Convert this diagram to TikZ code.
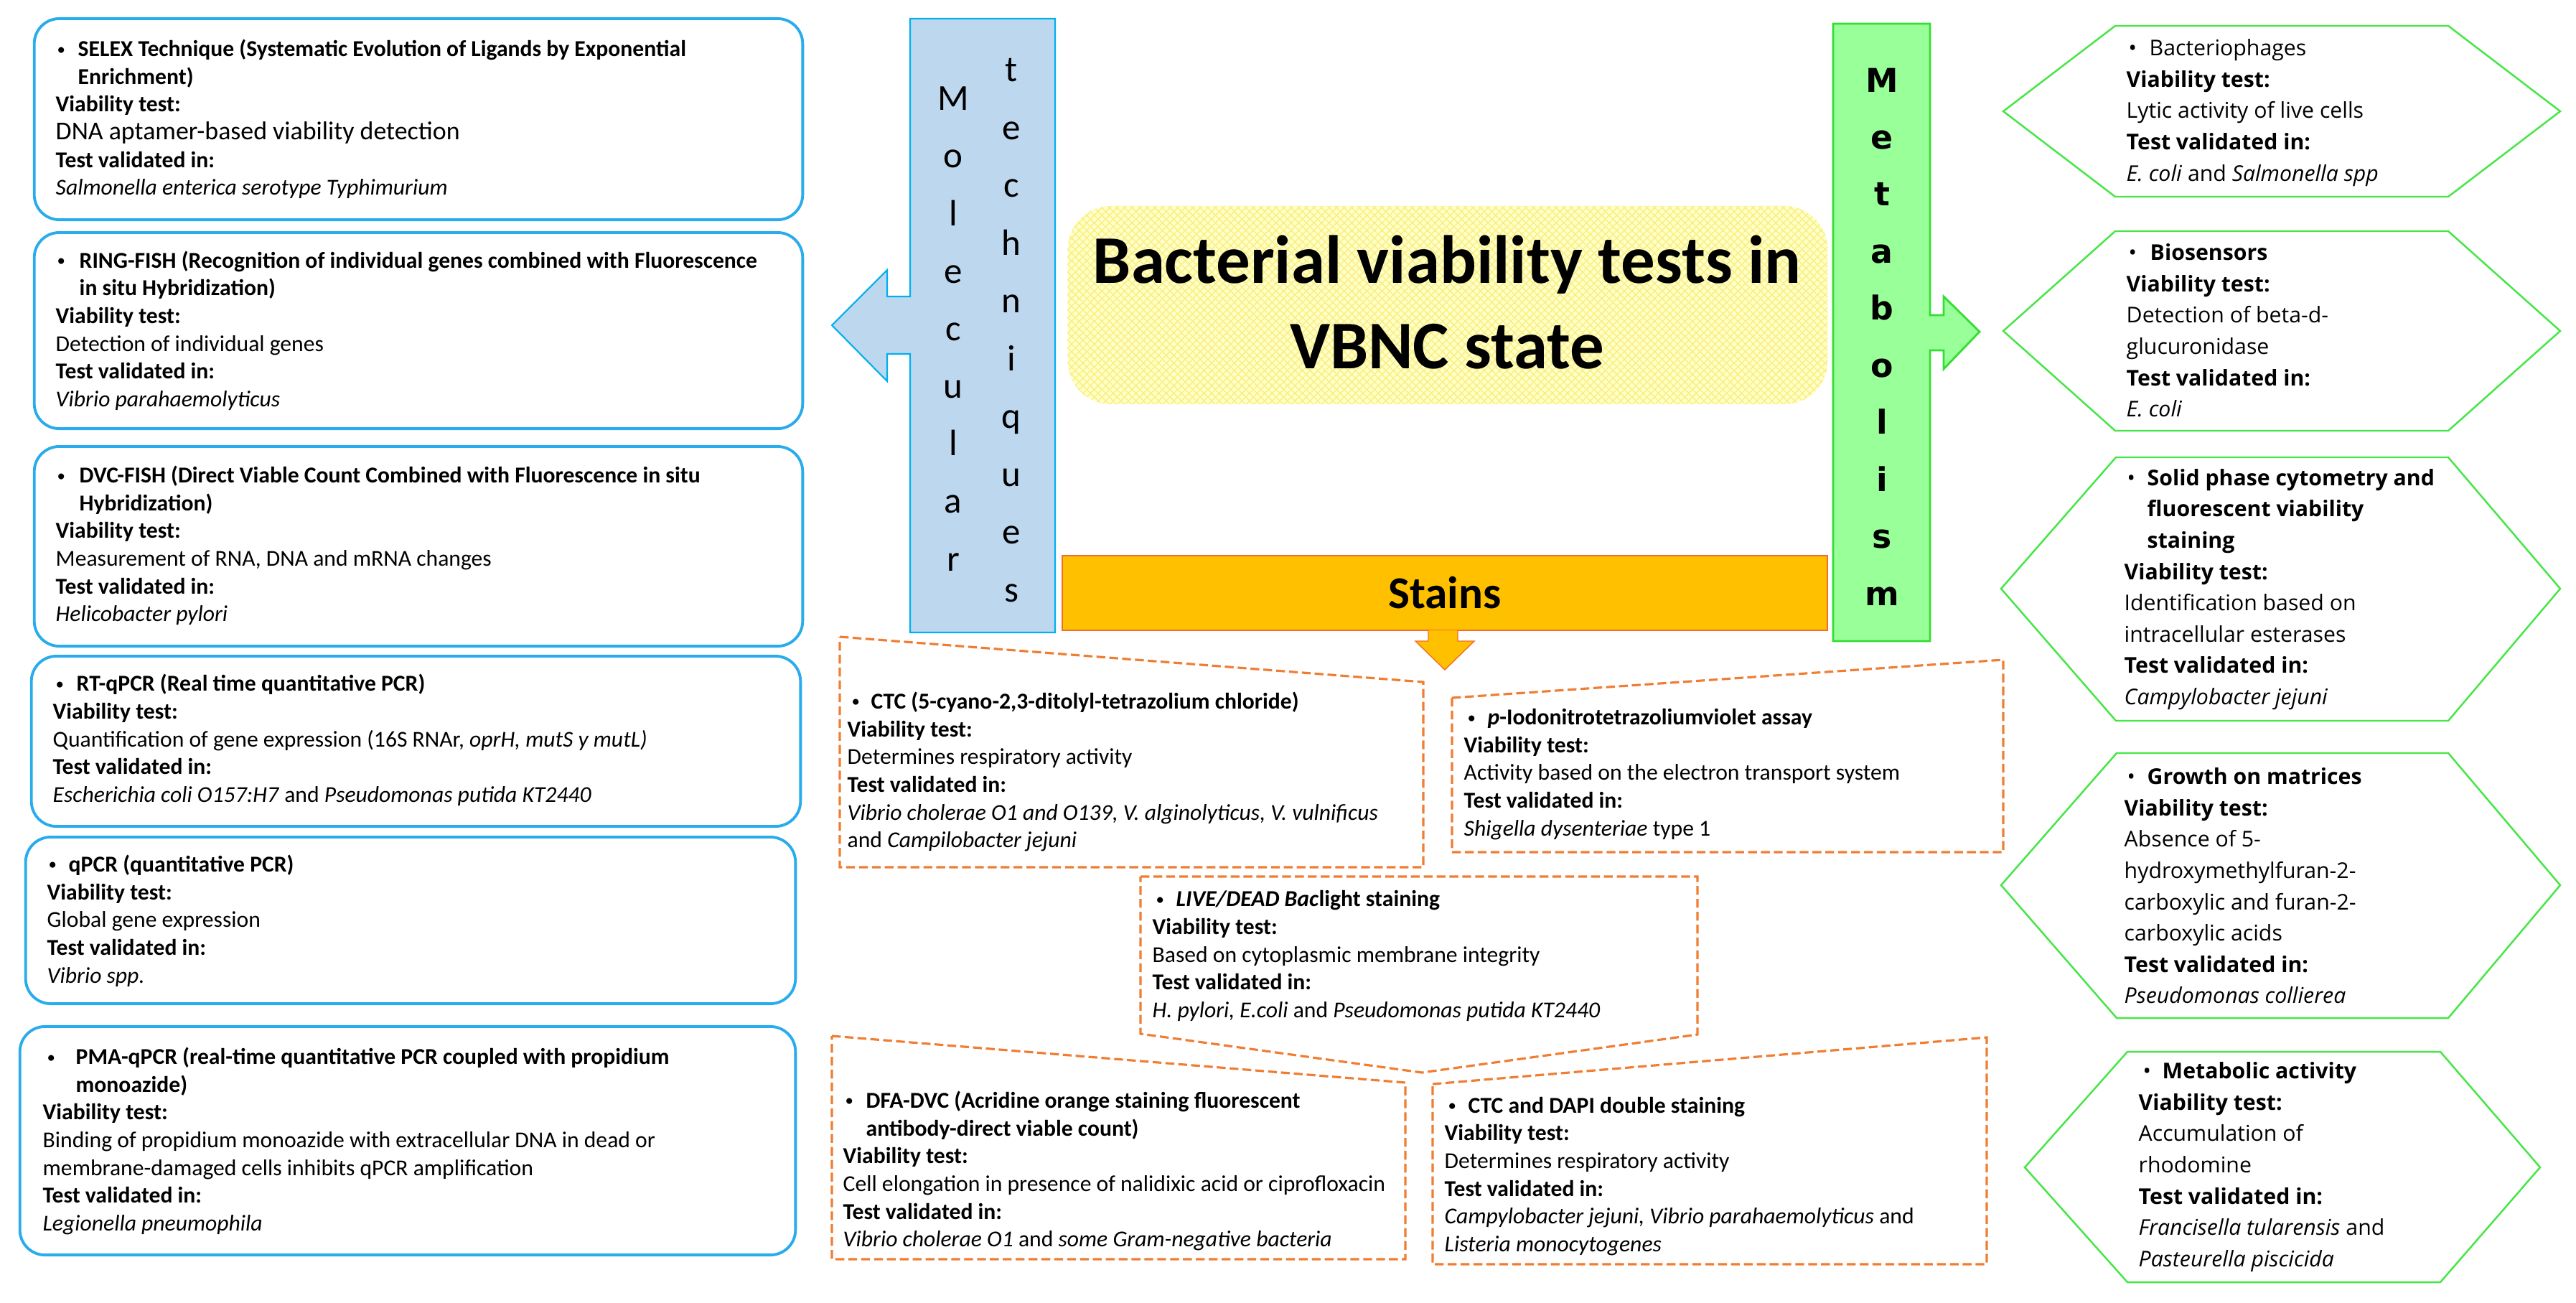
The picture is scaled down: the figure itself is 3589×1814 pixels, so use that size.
\documentclass[tikz,border=0pt]{standalone}
\usepackage{fontspec}
\setmainfont{Carlito}
\newfontfamily\osans{Open Sans}
\newfontfamily\dvs{DejaVu Sans}
\usetikzlibrary{patterns}

\definecolor{lblue}{RGB}{40,172,235}
\definecolor{molfill}{RGB}{189,215,238}
\definecolor{molline}{RGB}{0,176,240}
\definecolor{metfill}{RGB}{153,255,153}
\definecolor{metline}{RGB}{51,221,51}
\definecolor{stfill}{RGB}{255,192,0}
\definecolor{stline}{RGB}{240,110,40}
\definecolor{dorange}{RGB}{240,125,50}
\definecolor{hexg}{RGB}{70,230,70}
\definecolor{titley}{RGB}{255,255,200}
\definecolor{titlep}{RGB}{250,238,130}

\newcommand\bul[2]{\makebox[#2][l]{\hspace*{#1}\raisebox{0.7pt}{\fontsize{6.5}{6.5}\selectfont\textbullet}}}
\newcommand\hbul[2]{\makebox[#2][l]{\hspace*{#1}\textbullet}}
\newcommand\ind[1]{\hspace*{#1}}

\begin{document}
\begin{tikzpicture}[x=0.01cm,y=-0.01cm,
  lbox/.style={draw=lblue, line width=1.1pt, rounded corners=0.35cm, inner sep=0},
  ltext/.style={anchor=west, align=left, inner sep=0, font=\fontsize{9}{11}\selectfont},
  sbox/.style={draw=dorange, line width=0.9pt, dash pattern=on 3.5pt off 1.6pt},
  hexbox/.style={draw=hexg, line width=0.7pt},
  htext/.style={anchor=west, align=left, inner sep=0, font=\osans\fontsize{8.6}{12.4}\selectfont}]

\useasboundingbox (0,0) rectangle (3589,1814);
\fill[white] (0,0) rectangle (3589,1814);

% ---------- left boxes ----------
\node[lbox, minimum width=10.70cm, minimum height=2.80cm] (b1) at (583,166) {};
\node[lbox, minimum width=10.70cm, minimum height=2.73cm] (b2) at (583,460.5) {};
\node[lbox, minimum width=10.70cm, minimum height=2.78cm] (b3) at (583,761) {};
\node[lbox, minimum width=10.71cm, minimum height=2.37cm] (b4) at (579.5,1032.5) {};
\node[lbox, minimum width=10.72cm, minimum height=2.32cm] (b5) at (572,1282) {};
\node[lbox, minimum width=10.80cm, minimum height=3.18cm] (b6) at (568,1589) {};

\node[ltext] (t1) at (77,166) {\bul{0.02cm}{0.31cm}\textbf{SELEX Technique (Systematic Evolution of Ligands by Exponential}\\
\ind{0.31cm}\textbf{Enrichment)}\\
\textbf{Viability test:}\\
{\fontsize{10.2}{11}\selectfont DNA aptamer-based viability detection}\\
\textbf{Test validated in:}\\
\textit{Salmonella enterica serotype Typhimurium}};

\node[ltext] (t2) at (77,460.5) {\bul{0.02cm}{0.33cm}\textbf{RING-FISH (Recognition of individual genes combined with Fluorescence}\\
\ind{0.33cm}\textbf{in situ Hybridization)}\\
\textbf{Viability test:}\\
Detection of individual genes\\
\textbf{Test validated in:}\\
\textit{Vibrio parahaemolyticus}};

\node[ltext] (t3) at (77,760) {\bul{0.02cm}{0.33cm}\textbf{DVC-FISH (Direct Viable Count Combined with Fluorescence in situ}\\
\ind{0.33cm}\textbf{Hybridization)}\\
\textbf{Viability test:}\\
Measurement of RNA, DNA and mRNA changes\\
\textbf{Test validated in:}\\
\textit{Helicobacter pylori}};

\node[ltext] (t4) at (73,1031) {\bul{0.04cm}{0.33cm}\textbf{RT-qPCR (Real time quantitative PCR)}\\
\textbf{Viability test:}\\
Quantification of gene expression (16S RNAr, \textit{oprH, mutS y mutL)}\\
\textbf{Test validated in:}\\
\textit{Escherichia coli O157:H7} and \textit{Pseudomonas putida KT2440}};

\node[ltext] (t5) at (65,1282.5) {\bul{0.02cm}{0.30cm}\textbf{qPCR (quantitative PCR)}\\
\textbf{Viability test:}\\
Global gene expression\\
\textbf{Test validated in:}\\
\textit{Vibrio spp.}};

\node[ltext] (t6) at (59,1589.5) {\bul{0.06cm}{0.46cm}\textbf{PMA-qPCR (real-time quantitative PCR coupled with propidium}\\
\ind{0.46cm}\textbf{monoazide)}\\
\textbf{Viability test:}\\
Binding of propidium monoazide with extracellular DNA in dead or\\
membrane-damaged cells inhibits qPCR amplification\\
\textbf{Test validated in:}\\
\textit{Legionella pneumophila}};

% ---------- Molecular techniques arrow ----------
\filldraw[fill=molfill, draw=molline, line width=0.6pt] (1268,26) -- (1470,26) -- (1470,881) -- (1268,881) -- (1268,493) -- (1236,493) -- (1236,531) -- (1159,453) -- (1236,376) -- (1236,413) -- (1268,413) -- cycle;
\node[font=\fontsize{14.5}{22.8}\selectfont, align=center, inner sep=0] (molA) at (1328,458) {M\\o\\l\\e\\c\\u\\l\\a\\r};
\node[font=\fontsize{14.5}{22.9}\selectfont, align=center, inner sep=0] (molB) at (1409,460) {t\\e\\c\\h\\n\\i\\q\\u\\e\\s};

% ---------- Metabolism arrow ----------
\filldraw[fill=metfill, draw=metline, line width=0.8pt] (2554,33) -- (2689,33) -- (2689,439) -- (2708,439) -- (2708,413) -- (2758,462) -- (2708,514) -- (2708,488) -- (2689,488) -- (2689,893) -- (2554,893) -- cycle;
\node[font=\dvs\bfseries\fontsize{13}{22.6}\selectfont, align=center, inner sep=0] (met) at (2622,469) {M\\e\\t\\a\\b\\o\\l\\i\\s\\m};

% ---------- title ----------
\node[fill=titley, postaction={pattern=crosshatch, pattern color=titlep}, rounded corners=0.6cm, minimum width=10.58cm, minimum height=2.76cm, inner sep=0] (tbox) at (2017,425) {};
\node[font=\bfseries\fontsize{27}{33.6}\selectfont, align=center, inner sep=0] (title) at (2016,421) {Bacterial viability tests in\\VBNC state};

% ---------- Stains ----------
\node[fill=stfill, draw=stline, line width=0.5pt, minimum width=10.66cm, minimum height=1.04cm, inner sep=0, font=\bfseries\fontsize{18}{20}\selectfont] (stains) at (2013,826) {Stains};
\filldraw[fill=stfill, draw=stline, line width=0.4pt] (1990,878) -- (1990,893) -- (1972,893) -- (2013,933) -- (2054,893) -- (2031,893) -- (2031,878);

\draw[sbox] (1170,887) -- (1983,950) -- (1983,1208) -- (1170,1208) -- cycle;
\draw[sbox] (2023,972) -- (2791,919) -- (2791,1187) -- (2023,1187) -- cycle;
\draw[sbox] (1589,1221) -- (2365,1221) -- (2365,1441) -- (1981,1494) -- (1589,1440) -- cycle;
\draw[sbox] (1159,1443) -- (1958,1508) -- (1958,1754) -- (1159,1754) -- cycle;
\draw[sbox] (1996,1510) -- (2768,1445) -- (2768,1761) -- (1996,1761) -- cycle;

\node[ltext] (s1) at (1180,1075) {\bul{0.06cm}{0.33cm}\textbf{CTC (5-cyano-2,3-ditolyl-tetrazolium chloride)}\\
\textbf{Viability test:}\\
Determines respiratory activity\\
\textbf{Test validated in:}\\
\textit{Vibrio cholerae O1 and O139, V. alginolyticus, V. vulnificus}\\
and \textit{Campilobacter jejuni}};

\node[ltext] (s2) at (2039,1078.5) {\bul{0.05cm}{0.33cm}\textbf{\textit{p}-Iodonitrotetrazoliumviolet assay}\\
\textbf{Viability test:}\\
Activity based on the electron transport system\\
\textbf{Test validated in:}\\
\textit{Shigella dysenteriae} type 1};

\node[ltext] (s3) at (1605,1331.5) {\bul{0.05cm}{0.33cm}\textbf{\textit{LIVE/DEAD Bac}light staining}\\
\textbf{Viability test:}\\
Based on cytoplasmic membrane integrity\\
\textbf{Test validated in:}\\
\textit{H. pylori, E.coli} and \textit{Pseudomonas putida KT2440}};

\node[ltext] (s4) at (1174,1631) {\bul{0.03cm}{0.32cm}\textbf{DFA-DVC (Acridine orange staining fluorescent}\\
\ind{0.32cm}\textbf{antibody-direct viable count)}\\
\textbf{Viability test:}\\
Cell elongation in presence of nalidixic acid or ciprofloxacin\\
\textbf{Test validated in:}\\
\textit{Vibrio cholerae O1} and \textit{some Gram-negative bacteria}};

\node[ltext] (s5) at (2012,1638.5) {\bul{0.05cm}{0.33cm}\textbf{CTC and DAPI double staining}\\
\textbf{Viability test:}\\
Determines respiratory activity\\
\textbf{Test validated in:}\\
\textit{Campylobacter jejuni, Vibrio parahaemolyticus} and\\
\textit{Listeria monocytogenes}};

% ---------- right hexagons ----------
\draw[hexbox] (2791,155) -- (2947,36) -- (3411,36) -- (3567,155) -- (3411,274) -- (2947,274) -- cycle;
\draw[hexbox] (2791,461) -- (2947,322) -- (3411,322) -- (3567,461) -- (3411,600) -- (2947,600) -- cycle;
\draw[hexbox] (2788,820) -- (2948,637) -- (3411,637) -- (3567,820) -- (3411,1004) -- (2948,1004) -- cycle;
\draw[hexbox] (2788,1233) -- (2949,1049) -- (3411,1049) -- (3567,1233) -- (3411,1418) -- (2949,1418) -- cycle;
\draw[hexbox] (2821,1626) -- (2964,1465) -- (3400,1465) -- (3539,1626) -- (3400,1786) -- (2964,1786) -- cycle;

\node[htext] (h1) at (2962,157) {\hbul{0.03cm}{0.32cm}Bacteriophages\\
\textbf{Viability test:}\\
Lytic activity of live cells\\
\textbf{Test validated in:}\\
\textit{E. coli} and \textit{Salmonella spp}};

\node[htext] (h2) at (2962,460.5) {\hbul{0.03cm}{0.33cm}\textbf{Biosensors}\\
\textbf{Viability test:}\\
Detection of beta-d-\\
glucuronidase\\
\textbf{Test validated in:}\\
\textit{E. coli}};

\node[htext] (h3) at (2959,821) {\hbul{0.04cm}{0.32cm}\textbf{Solid phase cytometry and}\\
\ind{0.32cm}\textbf{fluorescent viability}\\
\ind{0.32cm}\textbf{staining}\\
\textbf{Viability test:}\\
Identification based on\\
intracellular esterases\\
\textbf{Test validated in:}\\
\textit{Campylobacter jejuni}};

\node[htext] (h4) at (2959,1234) {\hbul{0.04cm}{0.32cm}\textbf{Growth on matrices}\\
\textbf{Viability test:}\\
Absence of 5-\\
hydroxymethylfuran-2-\\
carboxylic and furan-2-\\
carboxylic acids\\
\textbf{Test validated in:}\\
\textit{Pseudomonas collierea}};

\node[htext] (h5) at (2979,1625.5) {\hbul{0.06cm}{0.33cm}\textbf{Metabolic activity}\\
\textbf{Viability test:}\\
Accumulation of\\
rhodomine\\
\textbf{Test validated in:}\\
\textit{Francisella tularensis} and\\
\textit{Pasteurella piscicida}};

\end{tikzpicture}
\end{document}
